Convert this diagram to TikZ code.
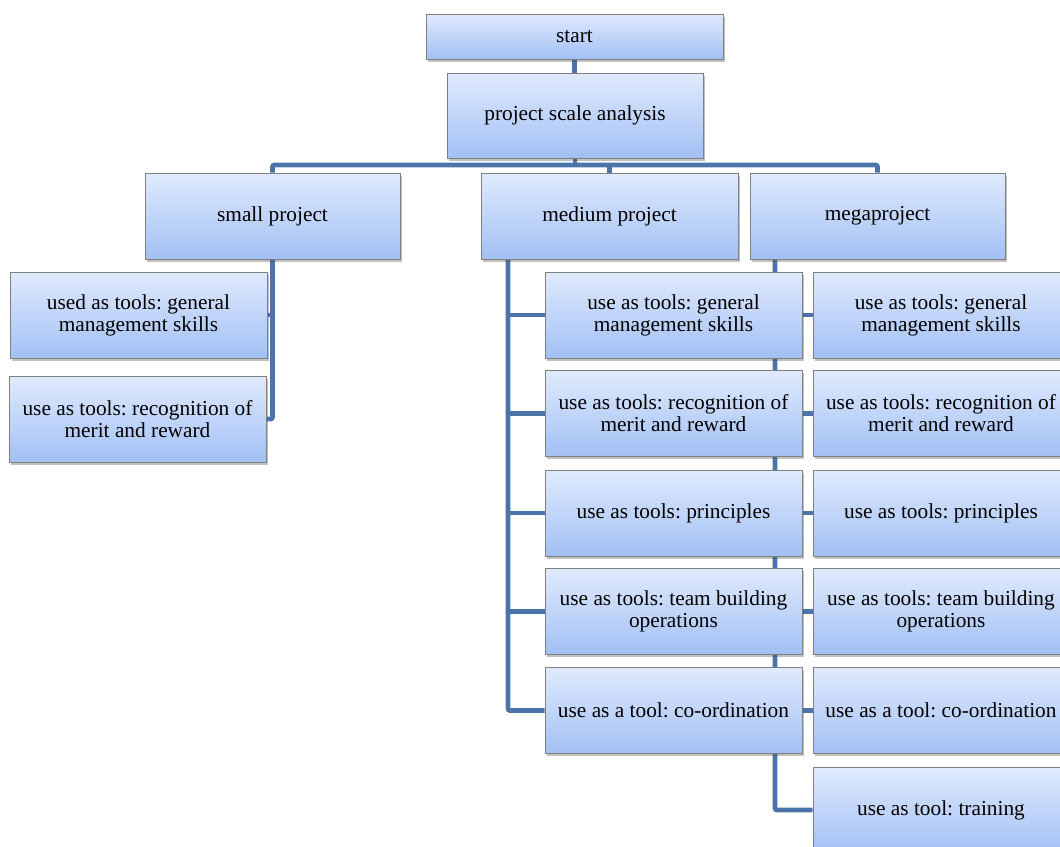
\documentclass[tikz,border=0pt]{standalone}
\usepackage{fontspec}
\setmainfont{Liberation Serif}
\usetikzlibrary{shadows,backgrounds}
\definecolor{conncol}{RGB}{74,116,170}
\definecolor{boxtop}{RGB}{224,234,253}
\definecolor{boxbot}{RGB}{162,192,245}
\definecolor{boxline}{RGB}{128,128,128}
\tikzset{
  box/.style={draw=boxline, line width=0.6pt, top color=boxtop, bottom color=boxbot,
    align=center, inner sep=2pt, text=black,
    font=\fontsize{16pt}{16.5pt}\selectfont,
    drop shadow={shadow xshift=1.6pt, shadow yshift=-2pt, opacity=0.35, fill=black!70}},
  sz/.style 2 args={minimum width={#1*0.75pt}, minimum height={#2*0.75pt}},
  conn/.style={draw=conncol, line width=3.6pt, rounded corners=1.5pt}
}
\frenchspacing
\begin{document}
\begin{tikzpicture}[x=0.75pt,y=-0.75pt]
\clip (0,0) rectangle (1060,846);
% top
\node[box, sz={297}{45}] (start) at (574.5,36.5) {start};
\node[box, sz={256}{85}] (psa) at (575,115.5) {project scale analysis};
% level 2
\node[box, sz={255}{86}] (small) at (272.5,216) {small project};
\node[box, sz={257}{86}] (medium) at (609.5,216) {medium project};
\node[box, sz={255}{86}] (mega) at (877.5,216) {megaproject};
% small column
\node[box, sz={257}{86}] (s1) at (138.5,315) {used as tools: general\\management skills};
\node[box, sz={257}{86}] (s2) at (137.5,419) {use as tools: recognition of\\merit and reward};
% medium column
\node[box, sz={257}{86}] (m1) at (673.5,315) {use as tools: general\\management skills};
\node[box, sz={257}{86}] (m2) at (673.5,413.5) {use as tools: recognition of\\merit and reward};
\node[box, sz={257}{86}] (m3) at (673.5,513) {use as tools: principles};
\node[box, sz={257}{86}] (m4) at (673.5,611.5) {use as tools: team building\\operations};
\node[box, sz={257}{86}] (m5) at (673.5,710.5) {use as a tool: co-ordination};
% mega column
\node[box, sz={256}{86}] (g1) at (941,315) {use as tools: general\\management skills};
\node[box, sz={256}{86}] (g2) at (941,413.5) {use as tools: recognition of\\merit and reward};
\node[box, sz={256}{86}] (g3) at (941,513) {use as tools: principles};
\node[box, sz={256}{86}] (g4) at (941,611.5) {use as tools: team building\\operations};
\node[box, sz={256}{86}] (g5) at (941,710.5) {use as a tool: co-ordination};
\node[box, sz={256}{86}] (g6) at (941,810) {use as tool: training};
% connectors
\begin{pgfonlayer}{background}
\coordinate (bus) at (575,165);
\coordinate (mt) at (508,258);
\coordinate (gt) at (775,258);
\draw[conn] (start.south) -- (start.south |- psa.north);
\draw[conn] (psa.south) -- (bus);
\draw[conn] (small.north) |- (bus) -| (mega.north);
\draw[conn] (medium.north) -- (medium.north |- bus);
% small
\draw[conn] (small.south) |- (s2.east);
\draw[conn] (small.south |- s1.east) -- (s1.east);
% medium
\draw[conn] (mt) |- (m5.west);
\foreach \n in {m1,m2,m3,m4}{\draw[conn] (mt |- \n.west) -- (\n.west);}
% mega
\draw[conn] (gt) |- (g6.west);
\foreach \n in {g1,g2,g3,g4,g5}{\draw[conn] (gt |- \n.west) -- (\n.west);}
\end{pgfonlayer}
\end{tikzpicture}
\end{document}
